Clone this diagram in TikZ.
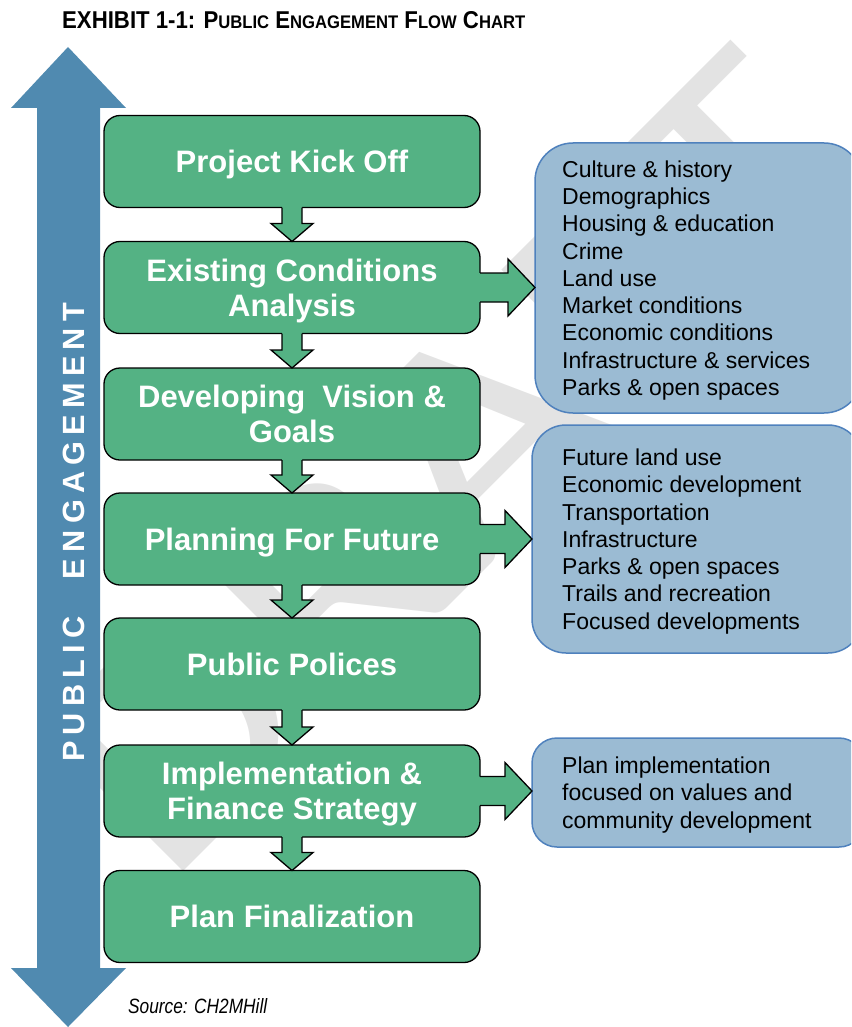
\documentclass[tikz,border=0pt]{standalone}
\usepackage{graphicx}
\usepackage{fontspec}
\setmainfont{Liberation Sans}
\newfontfamily\wmfont{Carlito}
\usetikzlibrary{calc}
\definecolor{boxgreen}{RGB}{84,178,132}
\definecolor{boxblue}{RGB}{155,187,211}
\definecolor{blueedge}{RGB}{79,129,189}
\definecolor{pearrow}{RGB}{80,138,176}
\definecolor{wmgray}{RGB}{227,227,227}
\newcommand\pesp{\kern6.2pt}
\newcommand\smc[1]{{\fontsize{16.5}{16.5}\selectfont #1}}
\tikzset{
  stepbox/.style={draw=black, line width=1.3pt, fill=boxgreen, rounded corners=16pt,
    minimum width=376pt, minimum height=92pt, inner sep=0pt, outer sep=0pt,
    text=white, font=\fontsize{31}{35}\selectfont\bfseries, align=center, text depth=0pt},
  infobox/.style={draw=blueedge, line width=1.5pt, fill=boxblue, inner sep=0pt,
    outer sep=0pt, anchor=west},
  infotext/.style={anchor=west, inner sep=0pt, align=left, text depth=0pt,
    font=\fontsize{23}{27.25}\selectfont, text=black},
  flowfill/.style={fill=boxgreen},
  flowline/.style={draw=black, line width=1.3pt, line join=miter},
}
\begin{document}
\begin{tikzpicture}[x=1pt,y=-1pt]
\useasboundingbox (0,0) rectangle (851,1027);
\clip (0,0) rectangle (851,1027);
% watermark
\node[text=wmgray, font=\wmfont\fontsize{312}{312}\selectfont, rotate=45, inner sep=0pt] (wm) at (450,463) {\scalebox{1.2}[1]{DRAFT}};
% public engagement double arrow
\fill[pearrow] (68,47) -- (126,108) -- (100,108) -- (100,968) -- (126,968) -- (68,1027)
  -- (11,968) -- (37,968) -- (37,108) -- (11,108) -- cycle;
\node[rotate=90, text=white, font=\fontsize{30.7}{30.7}\selectfont\bfseries, inner sep=0pt] (pe)
  at (74,532.5) {P\pesp U\pesp B\pesp L\pesp I\pesp C\kern37.6pt E\pesp N\pesp G\pesp A\pesp G\pesp E\pesp M\pesp E\pesp N\pesp T};
% steps
\node[stepbox] (b1) at (292,161.5) {Project Kick Off};
\node[stepbox] (b2) at (292,287.5) {Existing Conditions\\Analysis};
\node[stepbox] (b3) at (292,414) {Developing\ \ Vision \&\\Goals};
\node[stepbox] (b4) at (292,539) {Planning For Future};
\node[stepbox] (b5) at (292,664) {Public Polices};
\node[stepbox] (b6) at (292,791) {Implementation \&\\Finance Strategy};
\node[stepbox] (b7) at (292,916.5) {Plan Finalization};
% info boxes
\node[infobox, minimum width=327pt, minimum height=270pt, rounded corners=38pt] (c1) at (535,278) {};
\node[infobox, minimum width=330pt, minimum height=228pt, rounded corners=34pt] (c2) at (532,539) {};
\node[infobox, minimum width=332pt, minimum height=109pt, rounded corners=25pt] (c3) at (532,792.5) {};
\node[infotext] (t1) at (562,278) {Culture \& history\\Demographics\\Housing \& education\\Crime\\Land use\\Market conditions\\Economic conditions\\Infrastructure \& services\\Parks \& open spaces};
\node[infotext] (t2) at (562,539) {Future land use\\Economic development\\Transportation\\Infrastructure\\Parks \& open spaces\\Trails and recreation\\Focused developments};
\node[infotext] (t3) at (562,792.5) {Plan implementation\\focused on values and\\community development};
% down arrows
\foreach \a/\b in {b1/b2,b2/b3,b3/b4,b4/b5,b5/b6,b6/b7}{
  \path[flowfill] let \p1=(\a.south), \p2=(\b.north) in
    (\x1-10pt,\y1+1.5pt) -- (\x1-10pt,\y2+18pt) -- (\x1-21pt,\y2+18pt) -- (\x1,\y2)
    -- (\x1+21pt,\y2+18pt) -- (\x1+10pt,\y2+18pt) -- (\x1+10pt,\y1+1.5pt) -- cycle;
  \path[flowline] let \p1=(\a.south), \p2=(\b.north) in
    (\x1-10pt,\y1) -- (\x1-10pt,\y2+18pt) -- (\x1-21pt,\y2+18pt) -- (\x1,\y2)
    -- (\x1+21pt,\y2+18pt) -- (\x1+10pt,\y2+18pt) -- (\x1+10pt,\y1);
}
% right arrows
\foreach \a/\b in {b2/c1,b4/c2,b6/c3}{
  \path[flowfill] let \p1=(\a.east), \p2=(\b.west) in
    (\x1-1.5pt,\y1+14.5pt) -- (\x2-27pt,\y1+14.5pt) -- (\x2-27pt,\y1+28.5pt) -- (\x2,\y1)
    -- (\x2-27pt,\y1-28.5pt) -- (\x2-27pt,\y1-14.5pt) -- (\x1-1.5pt,\y1-14.5pt) -- cycle;
  \path[flowline] let \p1=(\a.east), \p2=(\b.west) in
    (\x1,\y1+14.5pt) -- (\x2-27pt,\y1+14.5pt) -- (\x2-27pt,\y1+28.5pt) -- (\x2,\y1)
    -- (\x2-27pt,\y1-28.5pt) -- (\x2-27pt,\y1-14.5pt) -- (\x1,\y1-14.5pt);
}
% title and source
\node[anchor=base west, inner sep=0pt] (title) at (62,29)
  {\resizebox{463pt}{17pt}{\bfseries\fontsize{22}{22}\selectfont EXHIBIT 1-1: P\smc{UBLIC} E\smc{NGAGEMENT} F\smc{LOW} C\smc{HART}}};
\node[anchor=base west, inner sep=0pt] (src) at (128,1013)
  {\resizebox{139pt}{15pt}{\itshape Source: CH2MHill}};
\end{tikzpicture}
\end{document}
